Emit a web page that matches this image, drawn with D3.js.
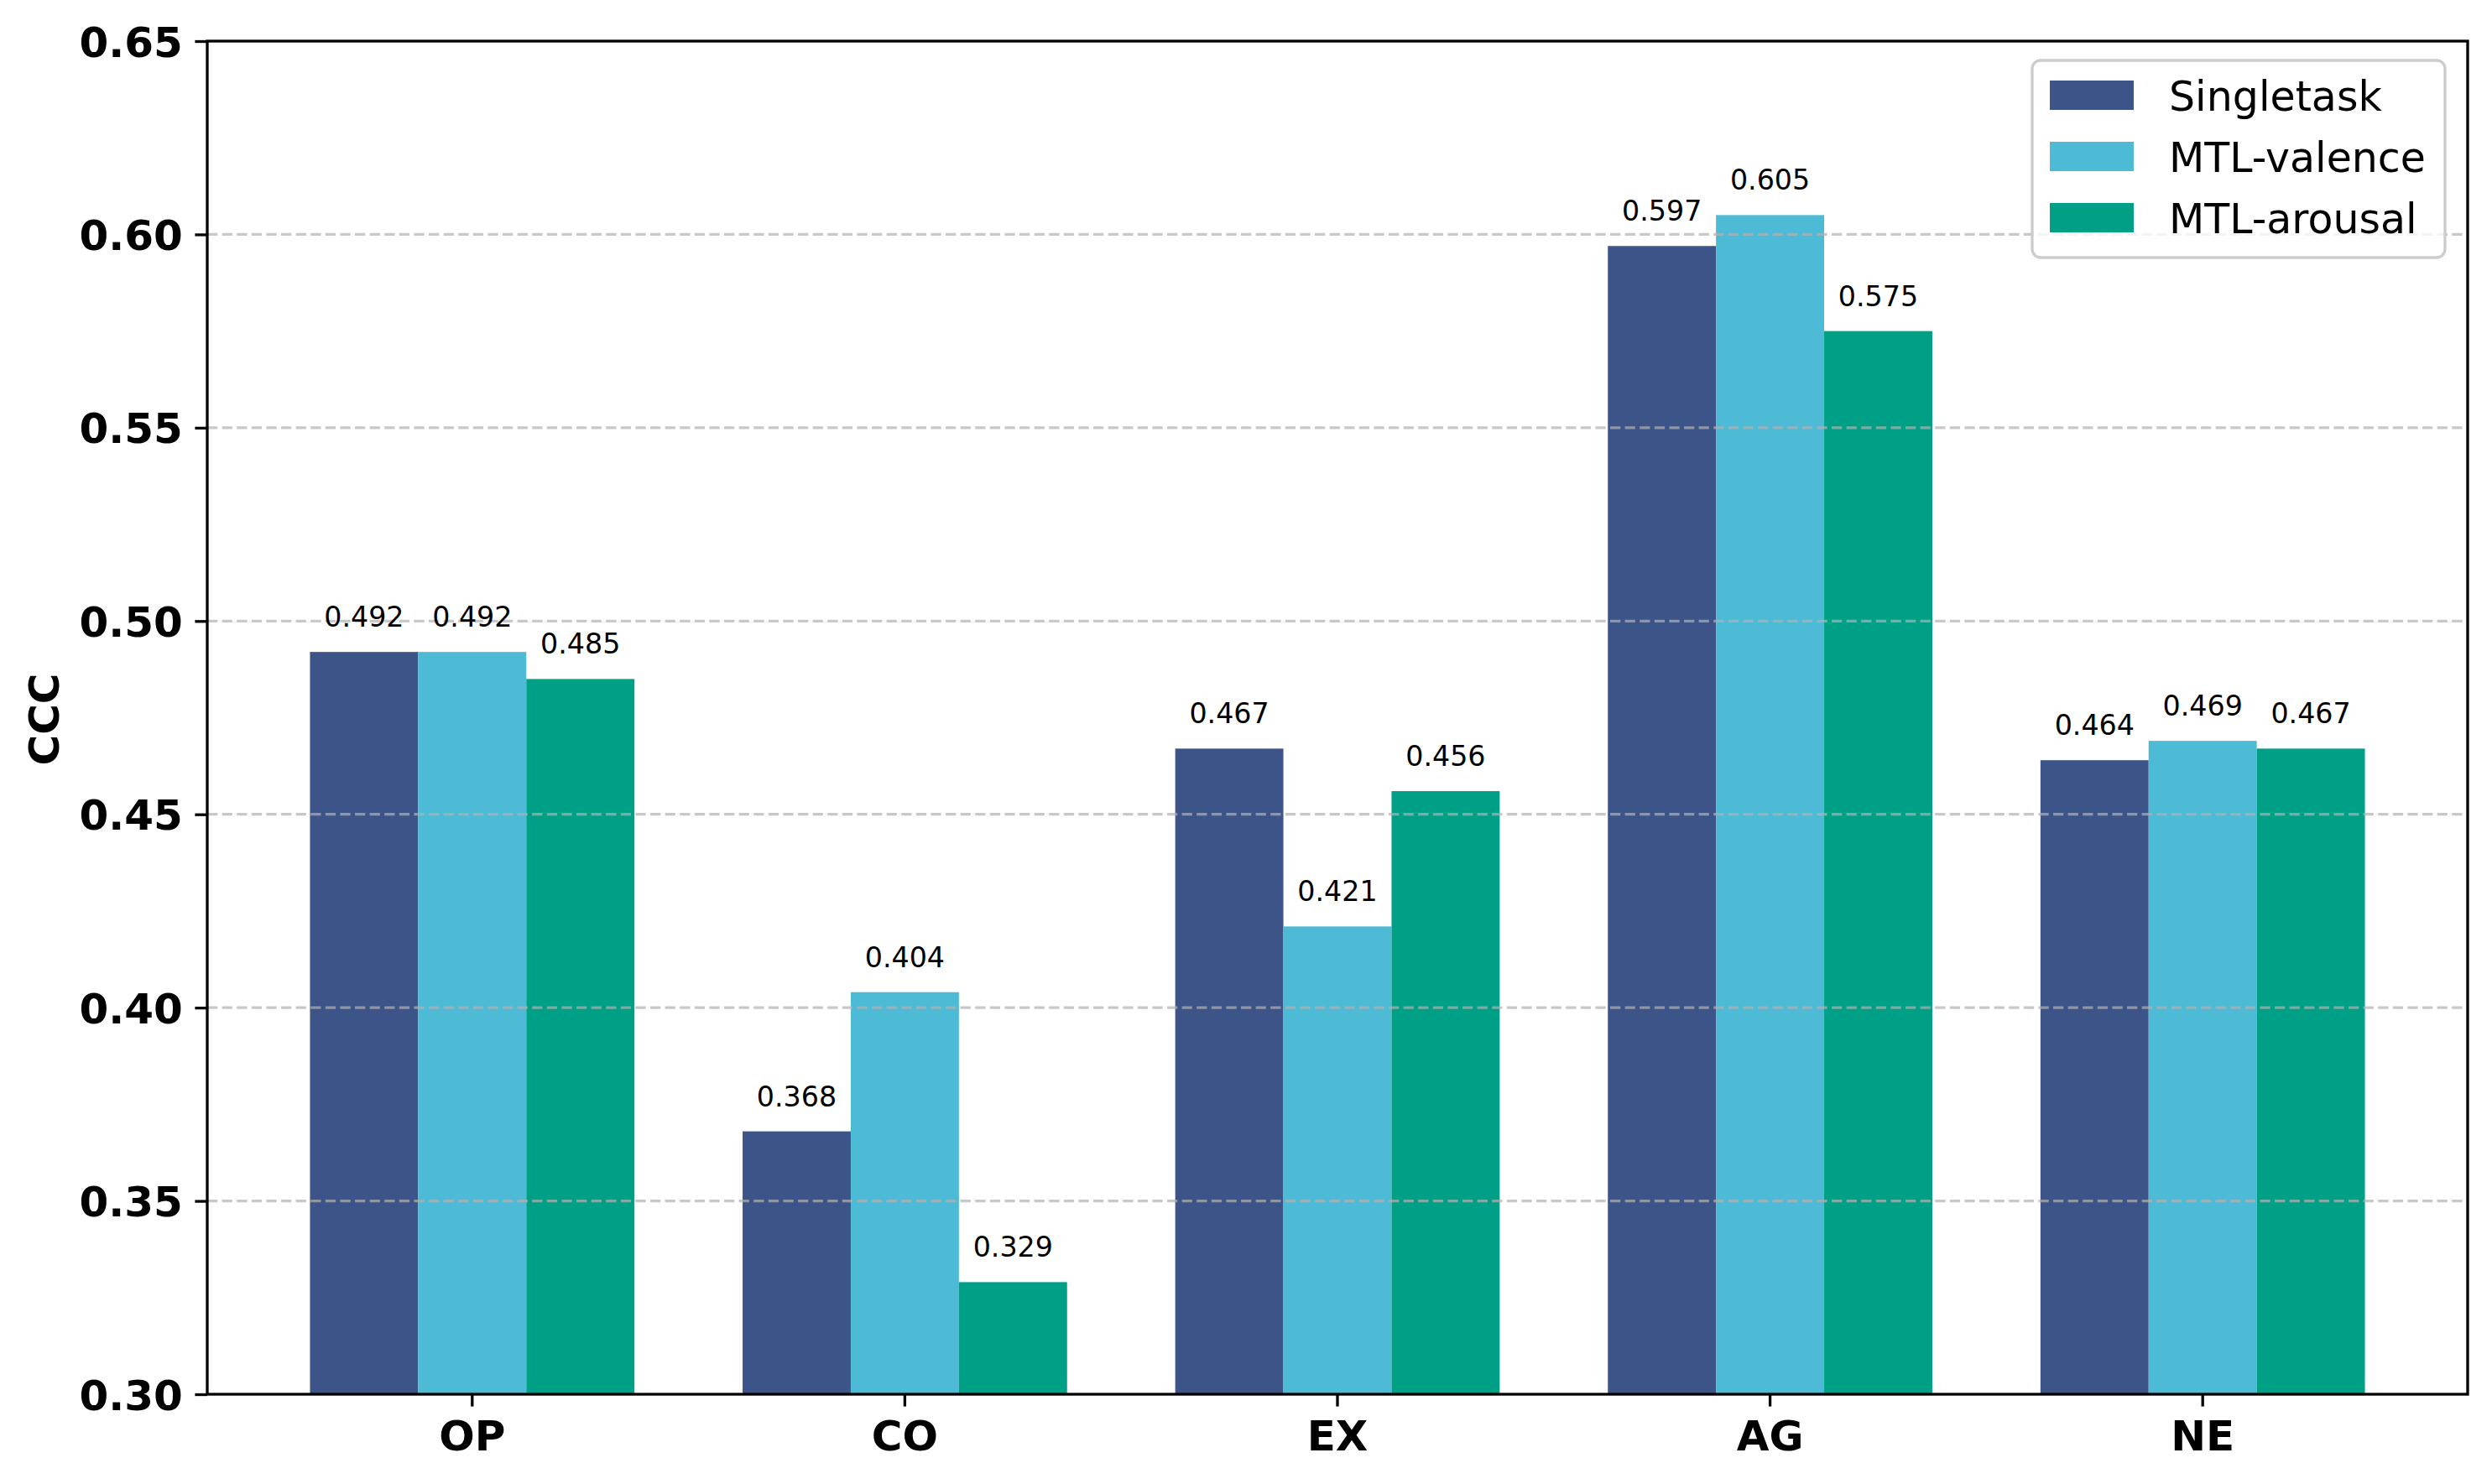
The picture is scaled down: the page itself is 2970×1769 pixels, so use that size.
<!DOCTYPE html>
<html>
<head>
<meta charset="utf-8">
<script src="https://cdn.jsdelivr.net/npm/d3@7"></script>
<style>
  html, body { margin: 0; padding: 0; background: #fff; }
  svg { display: block; font-family: "DejaVu Sans", sans-serif; }
</style>
</head>
<body>
<div id="chart"></div>
<script>
// Grouped bar chart: CCC per trait for three training setups.
var categories = ["OP", "CO", "EX", "AG", "NE"];
var series = ["Singletask", "MTL-valence", "MTL-arousal"];
var colours = ["#3C5488", "#4DBBD5", "#00A087"];
var singletask = [0.492, 0.368, 0.467, 0.597, 0.464];
var mtlValence = [0.492, 0.404, 0.421, 0.605, 0.469];
var mtlArousal = [0.485, 0.329, 0.456, 0.575, 0.467];
var yTicks = [0.30, 0.35, 0.40, 0.45, 0.50, 0.55, 0.60, 0.65];

(function () {
  var W = 2970, H = 1769;
  var left = 247, right = 2941, top = 49, bottom = 1662;
  var lw = 3.3;           // 0.8pt at 300 dpi
  var tick = 14.6;        // 3.5pt

  var values = [singletask, mtlValence, mtlArousal];
  var rows = [];
  categories.forEach(function (c, i) {
    series.forEach(function (s, j) {
      rows.push({ cat: c, ser: s, idx: j, v: values[j][i] });
    });
  });

  var svg = d3.select("#chart").append("svg")
    .attr("width", W).attr("height", H);

  // band step mirrors matplotlib's 5% x margins around bars of width 0.25
  var x0 = d3.scaleBand().domain(categories)
    .range([left, right]).paddingInner(0).paddingOuter(0.1125);
  var bw = x0.bandwidth();
  var x1 = d3.scaleBand().domain(series).range([0.125 * bw, 0.875 * bw]);
  var y = d3.scaleLinear().domain([0.30, 0.65]).range([bottom, top]);

  // -- bars ---------------------------------------------------------------
  svg.append("g").selectAll("rect")
    .data(rows).join("rect")
    .attr("x", function (d) { return x0(d.cat) + x1(d.ser); })
    .attr("y", function (d) { return y(d.v); })
    .attr("width", x1.bandwidth())
    .attr("height", function (d) { return y(0.30) - y(d.v); })
    .attr("fill", function (d) { return colours[d.idx]; });

  // -- grid (sits above the bars, like matplotlib's default) --------------
  svg.append("g").selectAll("line")
    .data(yTicks.slice(1, -1)).join("line")
    .attr("x1", left).attr("x2", right)
    .attr("y1", function (d) { return y(d); })
    .attr("y2", function (d) { return y(d); })
    .attr("stroke", "#b0b0b0").attr("stroke-opacity", 0.7)
    .attr("stroke-width", lw).attr("stroke-dasharray", "12.3,5.3");

  // -- value labels -------------------------------------------------------
  svg.append("g").selectAll("text")
    .data(rows).join("text")
    .attr("x", function (d) { return x0(d.cat) + x1(d.ser) + x1.bandwidth() / 2; })
    .attr("y", function (d) { return y(d.v) - 30; })
    .attr("text-anchor", "middle")
    .attr("font-size", 33.3)
    .text(function (d) { return d.v.toFixed(3); });

  // -- axes ---------------------------------------------------------------
  var ya = svg.append("g").attr("transform", "translate(" + left + ",0)")
    .call(d3.axisLeft(y).tickValues(yTicks).tickFormat(d3.format(".2f"))
      .tickSize(tick).tickPadding(tick));
  var xa = svg.append("g").attr("transform", "translate(0," + bottom + ")")
    .call(d3.axisBottom(x0).tickSize(tick).tickPadding(tick));

  [ya, xa].forEach(function (a) {
    a.select(".domain").remove();
    a.selectAll(".tick line").attr("stroke", "#000").attr("stroke-width", lw);
    a.selectAll(".tick text")
      .attr("font-family", "DejaVu Sans").attr("font-size", 50)
      .attr("font-weight", "bold").attr("fill", "#000");
  });
  ya.selectAll(".tick text").attr("dy", "0.36em");
  xa.selectAll(".tick text").attr("dy", "0.76em");

  svg.append("rect")
    .attr("x", left).attr("y", top)
    .attr("width", right - left).attr("height", bottom - top)
    .attr("fill", "none").attr("stroke", "#000").attr("stroke-width", lw);

  svg.append("text")
    .attr("transform", "translate(70," + ((top + bottom) / 2 + 2) + ") rotate(-90)")
    .attr("text-anchor", "middle")
    .attr("font-size", 50).attr("font-weight", "bold")
    .text("CCC");

  // -- legend -------------------------------------------------------------
  var lg = svg.append("g");
  lg.append("rect")
    .attr("x", 2422).attr("y", 72).attr("width", 492).attr("height", 235)
    .attr("rx", 10).attr("ry", 10)
    .attr("fill", "#fff").attr("fill-opacity", 0.8)
    .attr("stroke", "#cccccc").attr("stroke-width", lw);

  var item = lg.selectAll("g.item")
    .data(series).join("g").attr("class", "item")
    .attr("transform", function (d, i) { return "translate(2443," + (96 + i * 73) + ")"; });
  item.append("rect")
    .attr("width", 100).attr("height", 35)
    .attr("fill", function (d, i) { return colours[i]; });
  item.append("text")
    .attr("x", 142).attr("y", 35.5)
    .attr("font-size", 49)
    .text(function (d) { return d; });
})();
</script>
</body>
</html>
